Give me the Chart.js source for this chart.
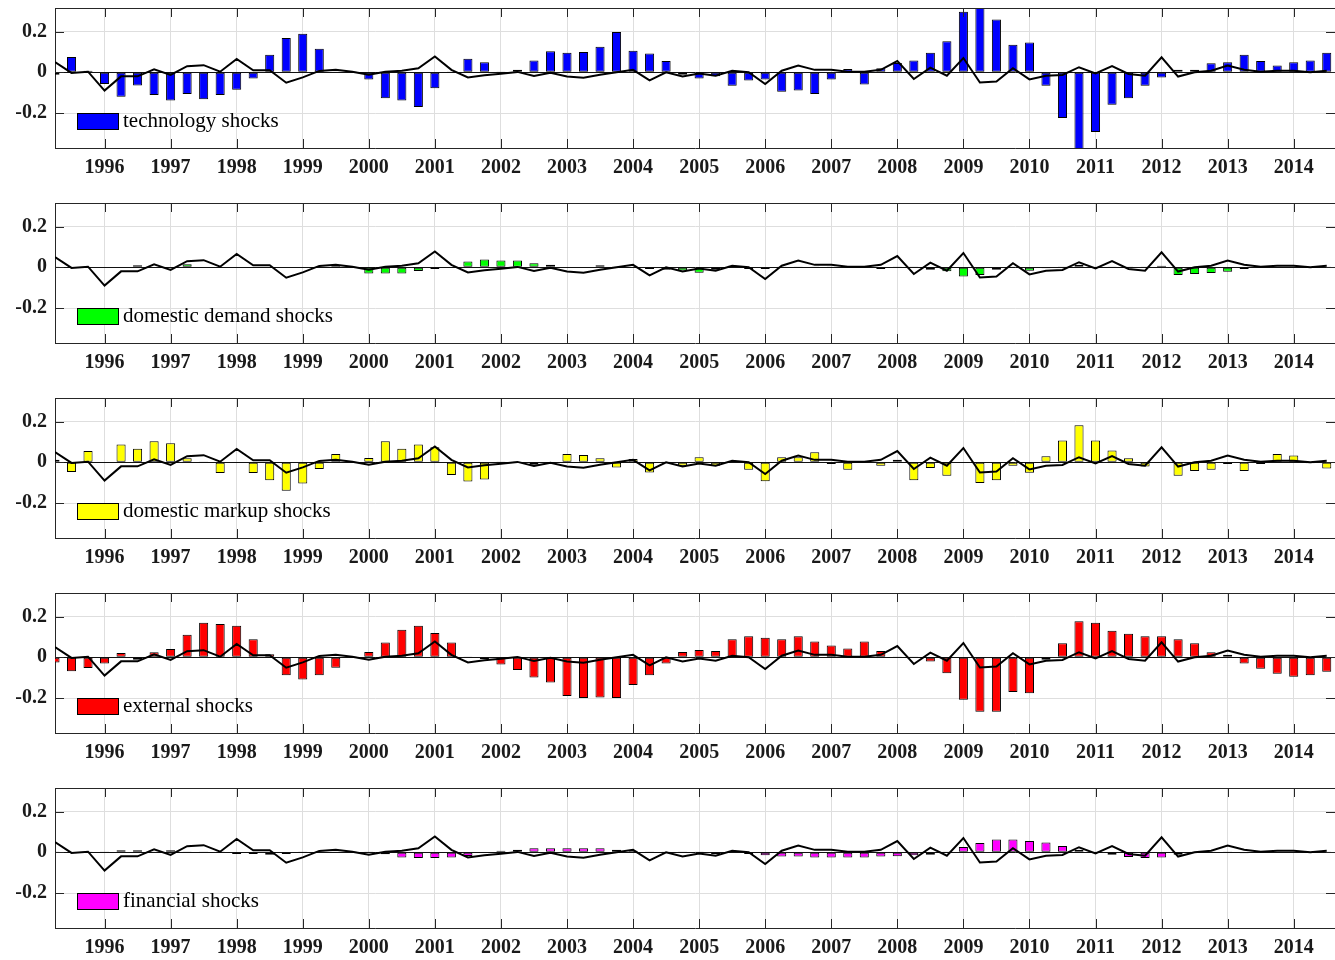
<!DOCTYPE html>
<html>
<head>
<meta charset="utf-8">
<script src="https://cdn.jsdelivr.net/npm/chart.js@4.4.1/dist/chart.umd.min.js"></script>
<style>
  html, body { margin: 0; padding: 0; background: #fff; overflow: hidden; }
  .panel { position: absolute; left: 0; width: 1335px; height: 195px; }
</style>
</head>
<body>
<div class="panel" style="top:0px"><canvas id="p0"></canvas></div>
<div class="panel" style="top:195px"><canvas id="p1"></canvas></div>
<div class="panel" style="top:390px"><canvas id="p2"></canvas></div>
<div class="panel" style="top:585px"><canvas id="p3"></canvas></div>
<div class="panel" style="top:780px"><canvas id="p4"></canvas></div>
<script>
// quarters 1995Q2 .. 2014Q3, as decimal years (Q1 = year.00)
var quarters = [];
for (var yr = 1995, q = 2; quarters.length < 78; q++) {
  if (q > 4) { q = 1; yr++; }
  quarters.push(yr + (q - 1) / 4);
}
var yearTicks = [1996, 1997, 1998, 1999, 2000, 2001, 2002, 2003, 2004, 2005,
                 2006, 2007, 2008, 2009, 2010, 2011, 2012, 2013, 2014];
var yTicks = [-0.2, 0, 0.2];

// black line, same in every panel
var observed = [
  0.05, -0.003, 0.003, -0.09, -0.02, -0.02, 0.015, -0.013, 0.03, 0.035,
  0.003, 0.066, 0.01, 0.01, -0.051, -0.025, 0.007, 0.013, 0.003, -0.012,
  0.003, 0.008, 0.02, 0.078, 0.012, -0.025, -0.015, -0.007, 0.002, -0.018,
  -0.002, -0.021, -0.027, -0.012, 0.0, 0.012, -0.04, 0.0, -0.021, -0.006,
  -0.017, 0.008, 0.0, -0.058, 0.008, 0.033, 0.012, 0.012, 0.003, 0.003,
  0.012, 0.055, -0.033, 0.023, -0.017, 0.07, -0.05, -0.045, 0.02, -0.035,
  -0.017, -0.013, 0.025, -0.005, 0.031, -0.008, -0.017, 0.074, -0.021, 0.0,
  0.008, 0.033, 0.013, 0.003, 0.008, 0.008, 0.0, 0.008
];

var technology = [
  -0.012, 0.075, 0.008, -0.058, -0.12, -0.065, -0.112, -0.139, -0.107, -0.132,
  -0.112, -0.086, -0.03, 0.086, 0.169, 0.19, 0.116, 0.004, 0.002, -0.035,
  -0.127, -0.139, -0.17, -0.078, 0.004, 0.066, 0.05, 0.002, 0.013, 0.058,
  0.104, 0.096, 0.1, 0.126, 0.198, 0.106, 0.093, 0.055, -0.012, -0.03,
  -0.02, -0.066, -0.04, -0.035, -0.096, -0.09, -0.107, -0.035, 0.016, -0.06,
  0.02, 0.046, 0.058, 0.096, 0.152, 0.298, 0.316, 0.26, 0.136, 0.147,
  -0.066, -0.225, -0.377, -0.293, -0.159, -0.127, -0.066, -0.025, 0.012, 0.013,
  0.045, 0.05, 0.086, 0.055, 0.033, 0.05, 0.058, 0.096
];

var demand = [
  0.002, 0.0, 0.0, 0.0, 0.0, 0.01, 0.0, 0.0, 0.015, 0.0,
  0.0, 0.0, 0.0, 0.0, 0.0, 0.0, 0.003, 0.008, 0.0, -0.03,
  -0.03, -0.03, -0.018, -0.008, 0.003, 0.028, 0.038, 0.033, 0.033, 0.02,
  0.013, 0.003, 0.003, 0.01, 0.002, 0.002, -0.008, -0.012, -0.016, -0.027,
  -0.012, 0.008, -0.008, -0.008, 0.002, 0.002, 0.002, 0.002, 0.002, 0.0,
  -0.008, 0.002, 0.002, -0.012, -0.02, -0.045, -0.038, -0.012, 0.002, -0.017,
  -0.005, 0.002, 0.013, 0.002, 0.002, 0.002, 0.002, 0.008, -0.038, -0.033,
  -0.028, -0.022, -0.008, 0.002, 0.002, 0.002, 0.002, 0.002
];

var markup = [
  0.013, -0.048, 0.055, -0.003, 0.088, 0.066, 0.103, 0.094, 0.02, 0.002,
  -0.053, -0.003, -0.053, -0.088, -0.14, -0.104, -0.033, 0.041, 0.003, 0.021,
  0.103, 0.066, 0.088, 0.074, -0.063, -0.094, -0.084, 0.002, 0.002, -0.012,
  -0.008, 0.041, 0.036, 0.02, -0.025, 0.016, -0.05, 0.002, -0.017, 0.025,
  -0.017, 0.002, -0.036, -0.093, 0.025, 0.025, 0.05, -0.008, -0.036, 0.002,
  -0.017, 0.013, -0.088, -0.028, -0.066, -0.003, -0.102, -0.088, -0.017, -0.051,
  0.03, 0.107, 0.182, 0.107, 0.058, 0.02, -0.021, -0.003, -0.066, -0.043,
  -0.036, -0.008, -0.043, -0.008, 0.041, 0.033, -0.005, -0.03
];

var external = [
  -0.025, -0.068, -0.053, -0.031, 0.021, -0.012, 0.025, 0.041, 0.111, 0.17,
  0.164, 0.155, 0.089, 0.015, -0.088, -0.109, -0.088, -0.051, 0.002, 0.026,
  0.073, 0.136, 0.155, 0.12, 0.073, 0.002, -0.008, -0.035, -0.063, -0.099,
  -0.124, -0.19, -0.2, -0.197, -0.2, -0.136, -0.088, -0.031, 0.026, 0.036,
  0.031, 0.089, 0.104, 0.096, 0.089, 0.104, 0.078, 0.058, 0.043, 0.078,
  0.031, 0.002, 0.002, -0.021, -0.078, -0.208, -0.268, -0.268, -0.17, -0.177,
  -0.012, 0.069, 0.177, 0.17, 0.131, 0.116, 0.104, 0.104, 0.089, 0.069,
  0.025, 0.013, -0.031, -0.056, -0.081, -0.096, -0.088, -0.071
];

var financial = [
  0.002, -0.002, 0.002, 0.002, 0.01, 0.01, 0.002, 0.01, 0.002, 0.002,
  0.002, -0.008, -0.008, -0.012, -0.008, 0.002, 0.002, 0.002, 0.002, 0.002,
  -0.01, -0.025, -0.028, -0.028, -0.025, -0.018, -0.002, 0.008, 0.013, 0.02,
  0.02, 0.02, 0.02, 0.02, 0.013, 0.008, 0.002, 0.002, 0.002, 0.002,
  -0.008, 0.006, -0.008, -0.015, -0.021, -0.021, -0.026, -0.026, -0.026, -0.026,
  -0.021, -0.02, -0.015, -0.012, 0.002, 0.026, 0.046, 0.063, 0.063, 0.056,
  0.048, 0.031, 0.013, 0.002, -0.012, -0.023, -0.028, -0.025, -0.012, 0.002,
  0.002, 0.002, -0.005, 0.002, 0.002, 0.002, 0.002, 0.002
];

var X_MIN = 1995.25, X_MAX = 2014.625;
var Y_MIN = -0.372, Y_MAX = 0.316;
var AXIS = '#262626';
var GRID = '#dedede';

function points(vals) {
  return vals.map(function (v, i) { return { x: quarters[i], y: v }; });
}

// box, inward ticks and the in-axes legend (MATLAB style)
var frame = {
  id: 'frame',
  afterDraw: function (chart) {
    var ctx = chart.ctx, a = chart.chartArea;
    var xs = chart.scales.x, ys = chart.scales.y;
    ctx.save();
    ctx.strokeStyle = AXIS;
    ctx.lineWidth = 1;
    ctx.beginPath();
    ctx.moveTo(a.left, a.top + 0.5);
    ctx.lineTo(a.right, a.top + 0.5);
    xs.ticks.forEach(function (t) {
      var px = Math.round(xs.getPixelForValue(t.value)) + 0.5;
      ctx.moveTo(px, a.bottom); ctx.lineTo(px, a.bottom - 9);
      ctx.moveTo(px, a.top); ctx.lineTo(px, a.top + 9);
    });
    ys.ticks.forEach(function (t) {
      var py = Math.round(ys.getPixelForValue(t.value)) + 0.5;
      ctx.moveTo(a.left, py); ctx.lineTo(a.left + 9, py);
      ctx.moveTo(a.right, py); ctx.lineTo(a.right - 9, py);
    });
    ctx.stroke();

    var ds = chart.data.datasets[1];
    var lx = a.left + 22, ly = a.top + 105;
    ctx.fillStyle = ds.backgroundColor;
    ctx.fillRect(lx, ly, 41, 16);
    ctx.strokeStyle = '#000';
    ctx.strokeRect(lx + 0.5, ly + 0.5, 41, 16);
    ctx.fillStyle = '#000';
    ctx.font = '21px "Liberation Serif"';
    ctx.textBaseline = 'alphabetic';
    ctx.textAlign = 'left';
    ctx.fillText(ds.label, lx + 46, ly + 14);
    ctx.restore();
  }
};

function makePanel(id, label, color, values) {
  var tickFont = { family: 'Liberation Serif', size: 20, weight: 'bold' };
  new Chart(document.getElementById(id), {
    type: 'bar',
    data: {
      datasets: [{
        type: 'line',
        label: 'observed',
        data: points(observed),
        borderColor: '#000',
        borderWidth: 2,
        pointRadius: 0,
        tension: 0,
        order: 0
      }, {
        type: 'bar',
        label: label,
        data: points(values),
        backgroundColor: color,
        borderColor: '#000',
        borderWidth: 1,
        borderSkipped: false,
        barPercentage: 0.55,
        categoryPercentage: 1,
        clip: 0,
        order: 1
      }]
    },
    options: {
      animation: false,
      responsive: true,
      maintainAspectRatio: false,
      layout: { padding: { top: 8, right: 0, bottom: 0, left: 0 } },
      plugins: { legend: { display: false }, tooltip: { enabled: false } },
      scales: {
        x: {
          type: 'linear',
          min: X_MIN,
          max: X_MAX,
          offset: false,
          afterBuildTicks: function (s) { s.ticks = yearTicks.map(function (v) { return { value: v }; }); },
          afterFit: function (s) { s.height = 47; s.paddingLeft = 0; s.paddingRight = 0; },
          grid: { color: GRID, drawTicks: false, offset: false },
          border: { color: AXIS, width: 1 },
          ticks: {
            font: tickFont, color: '#1a1a1a', padding: 8,
            maxRotation: 0, autoSkip: false,
            callback: function (v) { return String(v); }
          }
        },
        y: {
          min: Y_MIN,
          max: Y_MAX,
          afterBuildTicks: function (s) { s.ticks = yTicks.map(function (v) { return { value: v }; }); },
          afterFit: function (s) { s.width = 55; s.paddingTop = 0; s.paddingBottom = 0; },
          grid: {
            drawTicks: false,
            color: function (c) { return c.tick && c.tick.value === 0 ? '#111' : GRID; }
          },
          border: { color: AXIS, width: 1 },
          ticks: {
            font: tickFont, color: '#1a1a1a', padding: 8,
            callback: function (v) { return v === 0 ? '0' : v.toFixed(1); }
          }
        }
      }
    },
    plugins: [frame]
  });
}

makePanel('p0', 'technology shocks', '#0000ff', technology);
makePanel('p1', 'domestic demand shocks', '#00ff00', demand);
makePanel('p2', 'domestic markup shocks', '#ffff00', markup);
makePanel('p3', 'external shocks', '#ff0000', external);
makePanel('p4', 'financial shocks', '#ff00ff', financial);
</script>
</body>
</html>
